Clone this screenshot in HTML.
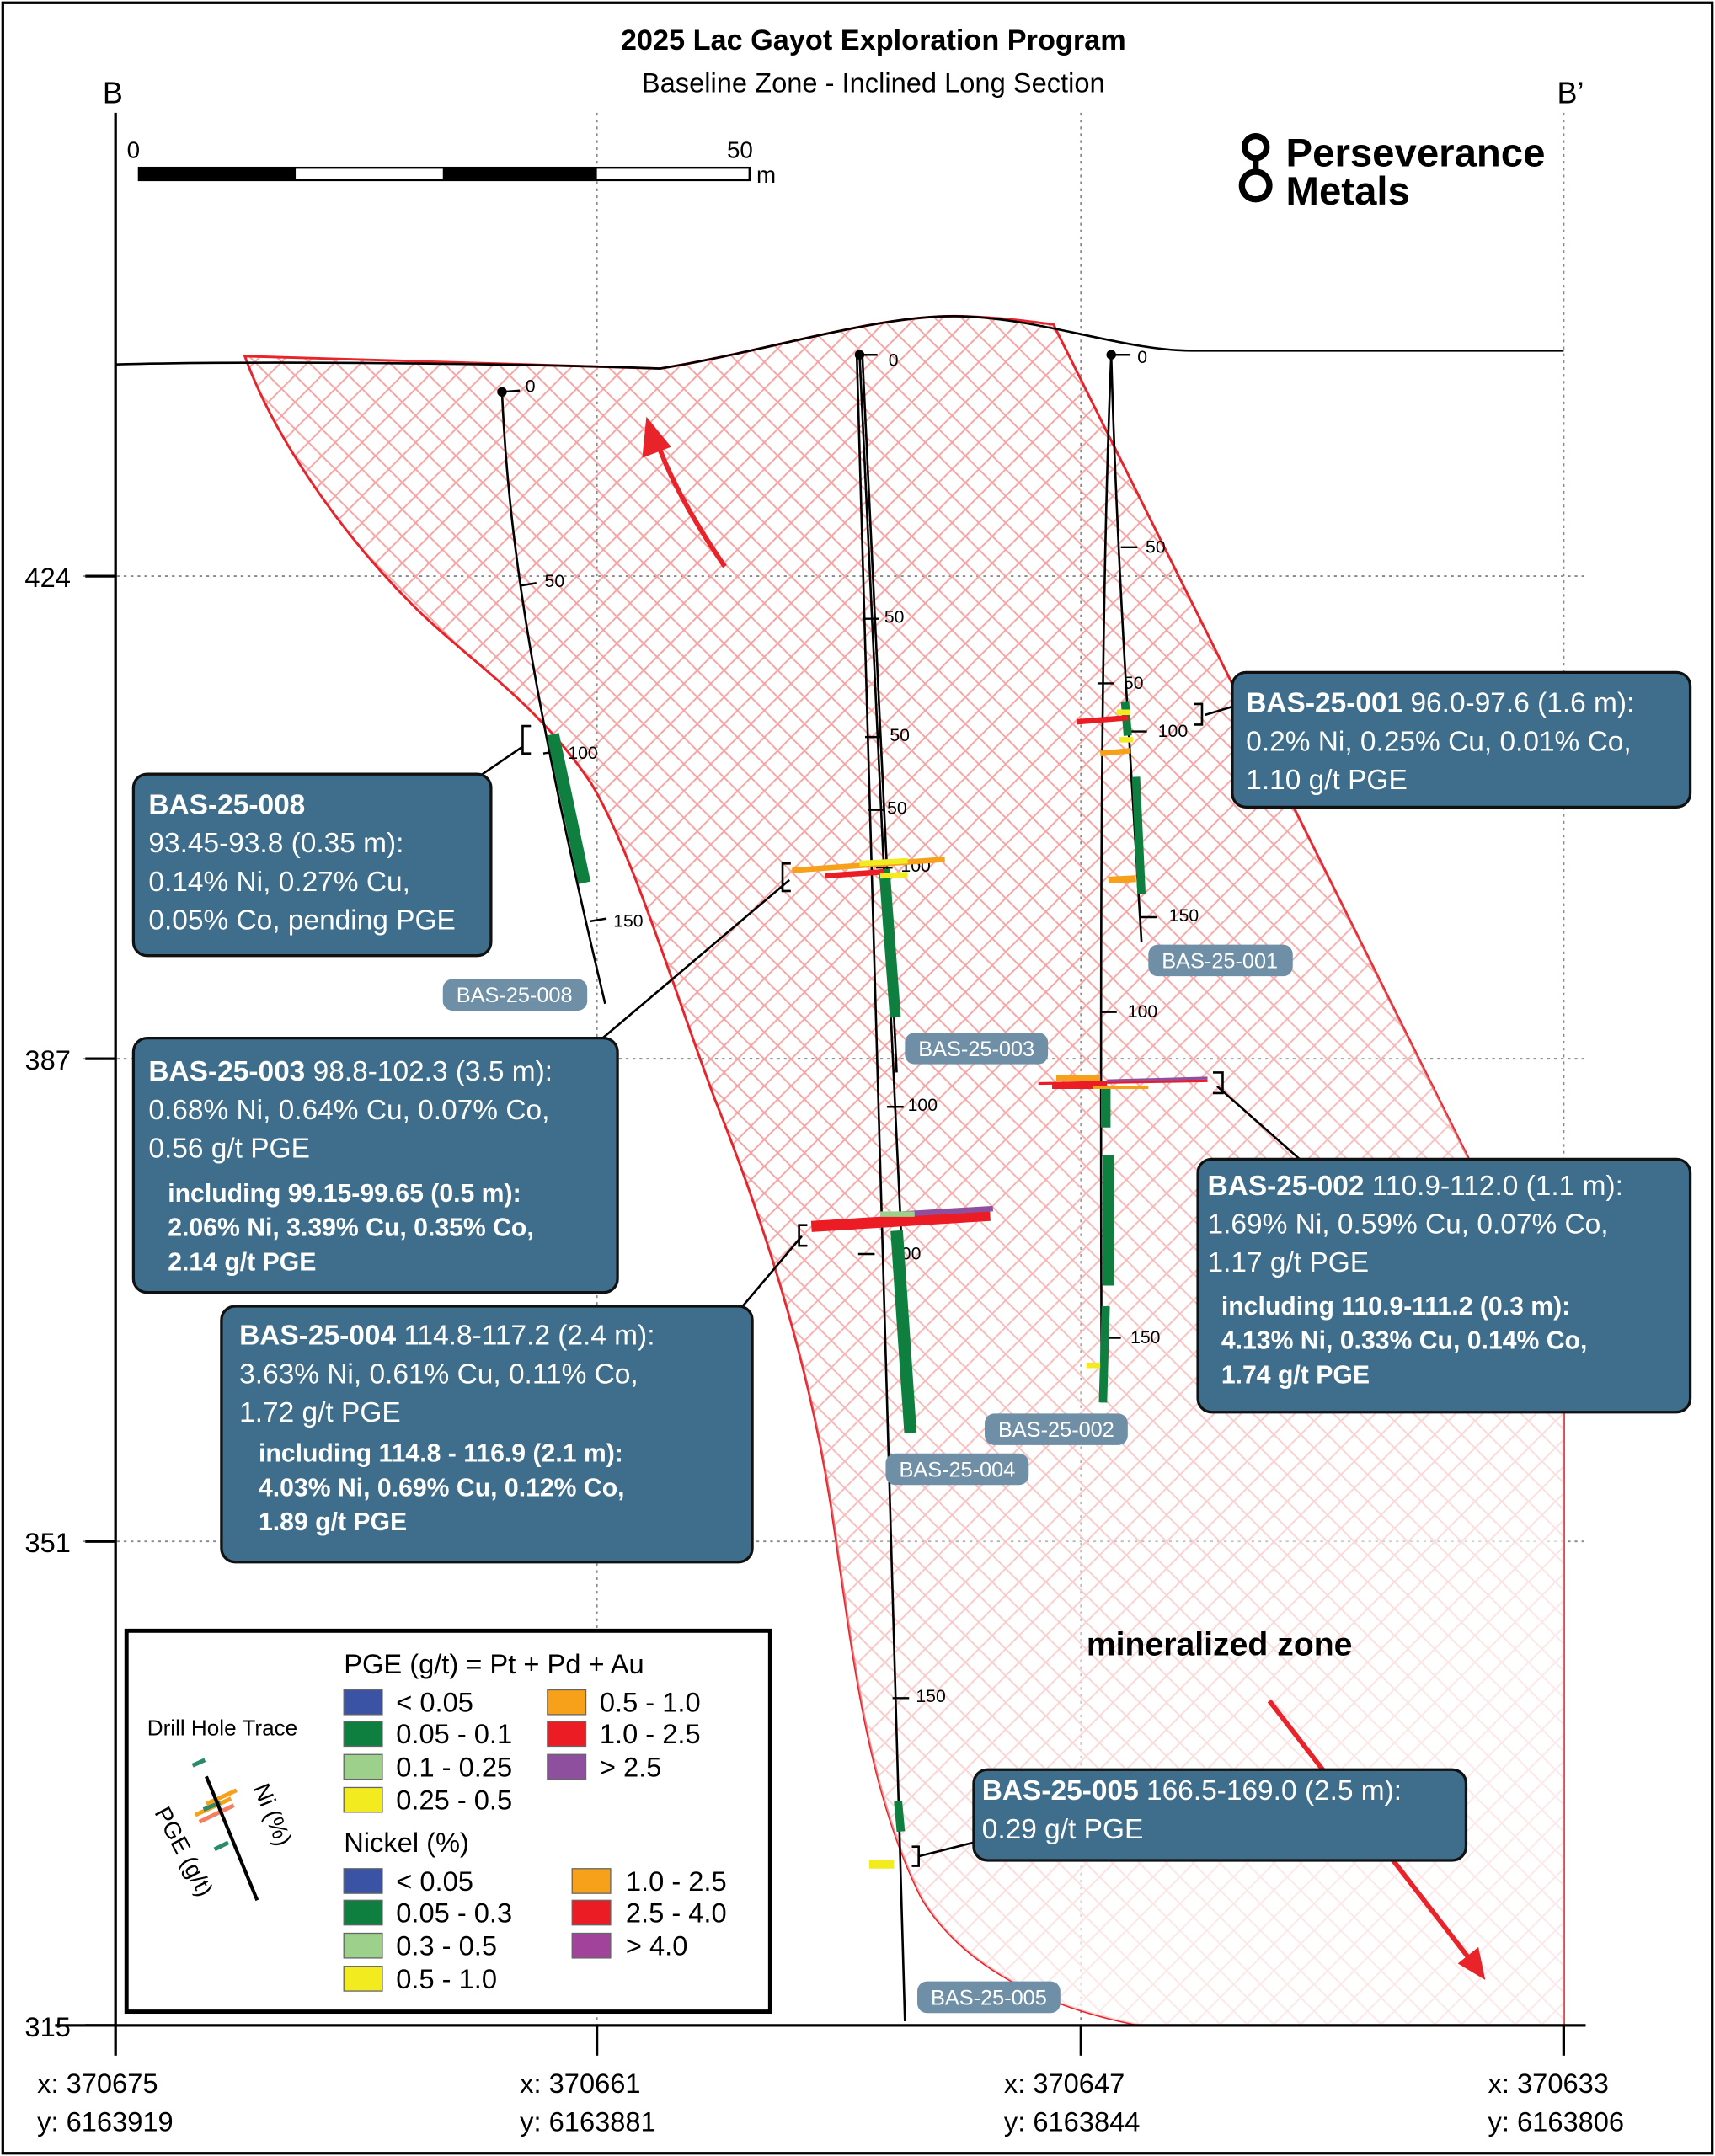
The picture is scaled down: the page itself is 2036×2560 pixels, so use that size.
<!DOCTYPE html>
<html><head><meta charset="utf-8"><style>
html,body{margin:0;padding:0;background:#fff}
svg{display:block}
text{font-family:"Liberation Sans",sans-serif}
.cb{fill:#3e6e8c;stroke:#111;stroke-width:2}
.ct{fill:#fff;font-size:20.5px}
.ci{fill:#fff;font-size:18.5px;font-weight:bold}
.lb{fill:#6f8fa6}
.lt{fill:#fff;font-size:15.5px}
.tk{font-size:13px;fill:#000}
.ax{font-size:20px;fill:#000}
</style></head><body>
<svg width="2036" height="2560" viewBox="0 0 1247 1568" xmlns="http://www.w3.org/2000/svg">
<defs>
<pattern id="h" width="19.5" height="19.5" patternUnits="userSpaceOnUse">
<path d="M0 0L19.5 19.5M19.5 0L0 19.5" stroke="#f5a3a3" stroke-width="1.2"/>
</pattern>
<linearGradient id="fade" x1="0" y1="0" x2="0.6" y2="1">
<stop offset="0.55" stop-color="#fff" stop-opacity="0"/>
<stop offset="1" stop-color="#fff" stop-opacity="0.75"/>
</linearGradient>
</defs>
<rect x="2" y="2" width="1243" height="1564" fill="#fff" stroke="#000" stroke-width="2"/>
<text x="635" y="36" text-anchor="middle" font-size="21" font-weight="bold">2025 Lac Gayot Exploration Program</text>
<text x="635" y="67" text-anchor="middle" font-size="20">Baseline Zone - Inclined Long Section</text>
<text x="82" y="75" text-anchor="middle" font-size="22">B</text>
<text x="1142" y="75" text-anchor="middle" font-size="22">B’</text>

<g stroke="#888" stroke-width="1.2" stroke-dasharray="2,3">
<line x1="434" y1="82" x2="434" y2="1473"/>
<line x1="786" y1="82" x2="786" y2="1473"/>
<line x1="1137" y1="82" x2="1137" y2="1473"/>
<line x1="60" y1="419" x2="1152" y2="419"/>
<line x1="60" y1="770" x2="1152" y2="770"/>
<line x1="60" y1="1121" x2="1152" y2="1121"/>
</g>

<path d="M178 259 C260 262 400 265 480 268 C560 255 640 228 700 230 C730 231 750 234 766 236 L1068 843 L1137 935 L1137 1473 L830 1473 C760 1460 700 1430 670 1380 C630 1300 620 1200 605 1100 C590 1000 560 900 520 800 C490 720 460 620 430 570 C390 510 340 480 300 440 C250 390 200 320 178 259Z" fill="url(#h)" stroke="#e8232a" stroke-width="1.8"/>
<path d="M178 259 C260 262 400 265 480 268 C560 255 640 228 700 230 C730 231 750 234 766 236 L1068 843 L1137 935 L1137 1473 L830 1473 C760 1460 700 1430 670 1380 C630 1300 620 1200 605 1100 C590 1000 560 900 520 800 C490 720 460 620 430 570 C390 510 340 480 300 440 C250 390 200 320 178 259Z" fill="url(#fade)"/>
<path d="M84 265 C200 262 400 265 480 268 C560 255 640 228 700 230 C760 232 820 256 870 255 L1137 255" fill="none" stroke="#000" stroke-width="1.6"/>

<line x1="84" y1="82" x2="84" y2="1473" stroke="#000" stroke-width="2"/>
<line x1="40" y1="1473" x2="1153" y2="1473" stroke="#000" stroke-width="2"/>
<g stroke="#000" stroke-width="2">
<line x1="62" y1="419" x2="84" y2="419"/><line x1="62" y1="770" x2="84" y2="770"/><line x1="62" y1="1121" x2="84" y2="1121"/><line x1="62" y1="1473" x2="84" y2="1473"/>
<line x1="84" y1="1473" x2="84" y2="1495"/><line x1="434" y1="1473" x2="434" y2="1495"/><line x1="786" y1="1473" x2="786" y2="1495"/><line x1="1137" y1="1473" x2="1137" y2="1495"/>
</g>
<text class="ax" x="18" y="427">424</text><text class="ax" x="18" y="778">387</text><text class="ax" x="18" y="1129">351</text><text class="ax" x="18" y="1481">315</text>
<g class="ax">
<text x="27" y="1522">x:  370675</text><text x="27" y="1550">y:  6163919</text>
<text x="378" y="1522">x:  370661</text><text x="378" y="1550">y:  6163881</text>
<text x="730" y="1522">x:  370647</text><text x="730" y="1550">y:  6163844</text>
<text x="1082" y="1522">x:  370633</text><text x="1082" y="1550">y:  6163806</text>
</g>

<rect x="101" y="122" width="444" height="9" fill="#fff" stroke="#000" stroke-width="1.5"/>
<rect x="101" y="122" width="114" height="9" fill="#000"/>
<rect x="322" y="122" width="112" height="9" fill="#000"/>
<text x="97" y="115" text-anchor="middle" font-size="17">0</text>
<text x="538" y="115" text-anchor="middle" font-size="17">50</text>
<text x="550" y="133" font-size="17">m</text>

<circle cx="913" cy="107" r="8" fill="none" stroke="#000" stroke-width="4.5"/>
<line x1="913" y1="115" x2="913" y2="124" stroke="#000" stroke-width="4.5"/>
<circle cx="913" cy="135" r="10" fill="none" stroke="#000" stroke-width="4.5"/>
<text x="935" y="121" font-size="29" font-weight="bold">Perseverance</text>
<text x="935" y="149" font-size="29" font-weight="bold">Metals</text>

<path d="M527 412 C505 380 488 350 478 322" fill="none" stroke="#e8232a" stroke-width="3.5"/>
<polygon points="470,303 467,333 488,325" fill="#e8232a"/>
<line x1="923" y1="1237" x2="1068" y2="1424" stroke="#e8232a" stroke-width="3.5"/>
<polygon points="1080,1440 1060,1428 1075,1416" fill="#e8232a"/>
<text x="790" y="1204" font-size="24" font-weight="bold">mineralized zone</text>

<g fill="none" stroke="#000" stroke-width="1.6">
<path d="M365 285 C370 400 390 520 440 730"/>
<path d="M627 258 L652 780"/>
<path d="M625 258 L662 1040"/>
<path d="M623 258 L658 1470"/>
<path d="M808 258 C812 400 820 520 830 685"/>
<path d="M808 258 C800 450 800 700 801 1020"/>
</g>
<g fill="#000"><circle cx="365" cy="285" r="3.5"/><circle cx="625" cy="258" r="3.5"/><circle cx="808" cy="258" r="3.5"/></g>
<g stroke="#000" stroke-width="1.5">
<line x1="365" y1="285" x2="378" y2="284"/><line x1="625" y1="258" x2="638" y2="258"/><line x1="808" y1="258" x2="822" y2="258"/>
<line x1="378" y1="426" x2="390" y2="424"/><line x1="395" y1="548" x2="408" y2="546"/><line x1="429" y1="670" x2="441" y2="668"/>
<line x1="627" y1="450" x2="639" y2="450"/><line x1="629" y1="536" x2="641" y2="536"/><line x1="631" y1="589" x2="643" y2="589"/>
<line x1="637" y1="631" x2="649" y2="631"/><line x1="645" y1="805" x2="657" y2="805"/><line x1="624" y1="912" x2="636" y2="912"/><line x1="649" y1="1235" x2="661" y2="1235"/>
<line x1="815" y1="398" x2="827" y2="398"/><line x1="822" y1="532" x2="834" y2="532"/><line x1="829" y1="667" x2="841" y2="667"/>
<line x1="798" y1="497" x2="810" y2="497"/><line x1="800" y1="736" x2="812" y2="736"/><line x1="803" y1="973" x2="815" y2="973"/>
</g>
<g class="tk">
<text x="382" y="285">0</text><text x="646" y="266">0</text><text x="827" y="264">0</text>
<text x="396" y="427">50</text><text x="413" y="552">100</text><text x="446" y="674">150</text>
<text x="643" y="453">50</text><text x="647" y="539">50</text><text x="645" y="592">50</text>
<text x="655" y="634">100</text><text x="660" y="808">100</text><text x="648" y="916">100</text><text x="666" y="1238">150</text>
<text x="833" y="402">50</text><text x="842" y="536">100</text><text x="850" y="670">150</text>
<text x="817" y="501">50</text><text x="820" y="740">100</text><text x="822" y="977">150</text>
</g>

<g stroke="#0e7f3f" stroke-width="7" fill="none">
<path d="M402 534 L425 642" stroke-width="9"/>
<path d="M643 632 L651 740" stroke-width="8"/>
<path d="M652 895 L662 1042" stroke-width="9"/>
<path d="M653 1310 L655 1332" stroke-width="6"/>
<path d="M826 565 L830 650" stroke-width="6"/>
<path d="M804 790 L804 820"/>
<path d="M806 840 L806 935" stroke-width="8"/>
<path d="M804 950 L802 1020" stroke-width="6"/>
<path d="M818 510 L820 535" stroke-width="6"/>
</g>
<g stroke-width="4">
<line x1="576" y1="633" x2="687" y2="625" stroke="#f7a11a"/>
<line x1="600" y1="637" x2="643" y2="634" stroke="#ec1c24"/>
<line x1="625" y1="628" x2="660" y2="626" stroke="#f2eb1f"/>
<line x1="640" y1="637" x2="660" y2="636" stroke="#f2eb1f"/>
<line x1="590" y1="892" x2="720" y2="884" stroke="#ec1c24" stroke-width="8"/>
<line x1="655" y1="883" x2="722" y2="879" stroke="#8e4f9f" stroke-width="4"/>
<line x1="640" y1="883" x2="665" y2="883" stroke="#9dd18b" stroke-width="4"/>
<line x1="632" y1="1356" x2="650" y2="1356" stroke="#f2eb1f" stroke-width="6"/>
<line x1="783" y1="525" x2="820" y2="522" stroke="#ec1c24"/>
<line x1="812" y1="518" x2="822" y2="518" stroke="#f2eb1f"/>
<line x1="800" y1="548" x2="822" y2="546" stroke="#f7a11a"/>
<line x1="814" y1="538" x2="824" y2="538" stroke="#f2eb1f"/>
<line x1="806" y1="640" x2="826" y2="639" stroke="#f7a11a" stroke-width="5"/>
<line x1="768" y1="784" x2="800" y2="784" stroke="#f7a11a"/>
<line x1="755" y1="788" x2="878" y2="786" stroke="#ec1c24" stroke-width="2"/>
<line x1="765" y1="790" x2="805" y2="790" stroke="#ec1c24"/>
<line x1="805" y1="786" x2="878" y2="784" stroke="#8e4f9f" stroke-width="2"/>
<line x1="795" y1="791" x2="835" y2="791" stroke="#f7a11a" stroke-width="2"/>
<line x1="790" y1="993" x2="800" y2="993" stroke="#f2eb1f"/>
</g>

<g>
<rect class="lb" x="322" y="712" width="105" height="23" rx="7"/><text class="lt" x="374" y="729" text-anchor="middle">BAS-25-008</text>
<rect class="lb" x="835" y="687" width="105" height="23" rx="7"/><text class="lt" x="887" y="704" text-anchor="middle">BAS-25-001</text>
<rect class="lb" x="658" y="751" width="104" height="23" rx="7"/><text class="lt" x="710" y="768" text-anchor="middle">BAS-25-003</text>
<rect class="lb" x="716" y="1028" width="104" height="23" rx="7"/><text class="lt" x="768" y="1045" text-anchor="middle">BAS-25-002</text>
<rect class="lb" x="644" y="1057" width="104" height="23" rx="7"/><text class="lt" x="696" y="1074" text-anchor="middle">BAS-25-004</text>
<rect class="lb" x="667" y="1441" width="104" height="23" rx="7"/><text class="lt" x="719" y="1458" text-anchor="middle">BAS-25-005</text>
</g>

<g fill="none" stroke="#000" stroke-width="1.6">
<line x1="345" y1="567" x2="380" y2="543"/><path d="M386 528 L380 528 L380 548 L386 548"/>
<line x1="876" y1="520" x2="896" y2="514"/><path d="M868 512 L874 512 L874 527 L868 527"/>
<line x1="437" y1="756" x2="574" y2="640"/><path d="M575 628 L569 628 L569 648 L575 648"/>
<line x1="540" y1="950" x2="583" y2="899"/><path d="M587 891 L581 891 L581 906 L587 906"/>
<line x1="885" y1="790" x2="945" y2="843"/><path d="M882 780 L889 780 L889 795 L882 795"/>
<line x1="668" y1="1350" x2="708" y2="1340"/><path d="M663 1343 L668 1343 L668 1357 L663 1357"/>
</g>

<rect class="cb" x="97" y="563" width="260" height="132" rx="10"/>
<text class="ct" x="108" y="592"><tspan font-weight="bold">BAS-25-008</tspan></text>
<text class="ct" x="108" y="620">93.45-93.8 (0.35 m):</text>
<text class="ct" x="108" y="648">0.14% Ni, 0.27% Cu,</text>
<text class="ct" x="108" y="676">0.05% Co, pending PGE</text>

<rect class="cb" x="896" y="489" width="333" height="98" rx="10"/>
<text class="ct" x="906" y="518"><tspan font-weight="bold">BAS-25-001</tspan> 96.0-97.6 (1.6 m):</text>
<text class="ct" x="906" y="546">0.2% Ni, 0.25% Cu, 0.01% Co,</text>
<text class="ct" x="906" y="574">1.10 g/t PGE</text>

<rect class="cb" x="97" y="755" width="352" height="185" rx="10"/>
<text class="ct" x="108" y="786"><tspan font-weight="bold">BAS-25-003</tspan> 98.8-102.3 (3.5 m):</text>
<text class="ct" x="108" y="814">0.68% Ni, 0.64% Cu, 0.07% Co,</text>
<text class="ct" x="108" y="842">0.56 g/t PGE</text>
<text class="ci" x="122" y="874">including 99.15-99.65 (0.5 m):</text>
<text class="ci" x="122" y="899">2.06% Ni, 3.39% Cu, 0.35% Co,</text>
<text class="ci" x="122" y="924">2.14 g/t PGE</text>

<rect class="cb" x="161" y="950" width="386" height="186" rx="10"/>
<text class="ct" x="174" y="978"><tspan font-weight="bold">BAS-25-004</tspan> 114.8-117.2 (2.4 m):</text>
<text class="ct" x="174" y="1006">3.63% Ni, 0.61% Cu, 0.11% Co,</text>
<text class="ct" x="174" y="1034">1.72 g/t PGE</text>
<text class="ci" x="188" y="1063">including 114.8 - 116.9 (2.1 m):</text>
<text class="ci" x="188" y="1088">4.03% Ni, 0.69% Cu, 0.12% Co,</text>
<text class="ci" x="188" y="1113">1.89 g/t PGE</text>

<rect class="cb" x="871" y="843" width="358" height="184" rx="10"/>
<text class="ct" x="878" y="869"><tspan font-weight="bold">BAS-25-002</tspan> 110.9-112.0 (1.1 m):</text>
<text class="ct" x="878" y="897">1.69% Ni, 0.59% Cu, 0.07% Co,</text>
<text class="ct" x="878" y="925">1.17 g/t PGE</text>
<text class="ci" x="888" y="956">including 110.9-111.2 (0.3 m):</text>
<text class="ci" x="888" y="981">4.13% Ni, 0.33% Cu, 0.14% Co,</text>
<text class="ci" x="888" y="1006">1.74 g/t PGE</text>

<rect class="cb" x="708" y="1287" width="358" height="66" rx="10"/>
<text class="ct" x="714" y="1309"><tspan font-weight="bold">BAS-25-005</tspan> 166.5-169.0 (2.5 m):</text>
<text class="ct" x="714" y="1337">0.29 g/t PGE</text>

<rect x="92" y="1186" width="468" height="277" fill="#fff" stroke="#000" stroke-width="3"/>
<text x="250" y="1217" font-size="20">PGE (g/t) = Pt + Pd + Au</text>
<g stroke="#666" stroke-width="0.8">
<rect x="250" y="1229" width="28" height="18" fill="#3a53a4"/>
<rect x="250" y="1252" width="28" height="18" fill="#0e7f3f"/>
<rect x="250" y="1276" width="28" height="18" fill="#9dd18b"/>
<rect x="250" y="1300" width="28" height="18" fill="#f2eb1f"/>
<rect x="398" y="1229" width="28" height="18" fill="#f7a11a"/>
<rect x="398" y="1252" width="28" height="18" fill="#ec1c24"/>
<rect x="398" y="1276" width="28" height="18" fill="#8e4f9f"/>
<rect x="250" y="1359" width="28" height="18" fill="#3a53a4"/>
<rect x="250" y="1382" width="28" height="18" fill="#0e7f3f"/>
<rect x="250" y="1406" width="28" height="18" fill="#9dd18b"/>
<rect x="250" y="1430" width="28" height="18" fill="#f2eb1f"/>
<rect x="416" y="1359" width="28" height="18" fill="#f7a11a"/>
<rect x="416" y="1382" width="28" height="18" fill="#ec1c24"/>
<rect x="416" y="1406" width="28" height="18" fill="#a1439a"/>
</g>
<g font-size="20">
<text x="288" y="1245">&lt; 0.05</text><text x="288" y="1268">0.05 - 0.1</text><text x="288" y="1292">0.1 - 0.25</text><text x="288" y="1316">0.25 - 0.5</text>
<text x="436" y="1245">0.5 - 1.0</text><text x="436" y="1268">1.0 - 2.5</text><text x="436" y="1292">&gt; 2.5</text>
<text x="250" y="1347">Nickel (%)</text>
<text x="288" y="1375">&lt; 0.05</text><text x="288" y="1398">0.05 - 0.3</text><text x="288" y="1422">0.3 - 0.5</text><text x="288" y="1446">0.5 - 1.0</text>
<text x="455" y="1375">1.0 - 2.5</text><text x="455" y="1398">2.5 - 4.0</text><text x="455" y="1422">&gt; 4.0</text>
</g>
<text x="107" y="1262" font-size="16">Drill Hole Trace</text>
<g stroke-width="3">
<line x1="140" y1="1284" x2="149" y2="1280" stroke="#2a8a6a"/>
<line x1="145" y1="1325" x2="170" y2="1313" stroke="#f28060"/>
<line x1="142" y1="1320" x2="168" y2="1308" stroke="#f7a11a"/>
<line x1="150" y1="1312" x2="172" y2="1302" stroke="#f7a11a"/>
<line x1="148" y1="1316" x2="160" y2="1311" stroke="#2a8a6a"/>
<line x1="156" y1="1345" x2="166" y2="1340" stroke="#2a8a6a"/>
</g>
<line x1="150" y1="1292" x2="187" y2="1382" stroke="#000" stroke-width="2.5"/>
<text transform="translate(184,1300) rotate(68)" font-size="17">Ni (%)</text>
<text transform="translate(112,1318) rotate(62)" font-size="17">PGE (g/t)</text>
</svg>
</body></html>
